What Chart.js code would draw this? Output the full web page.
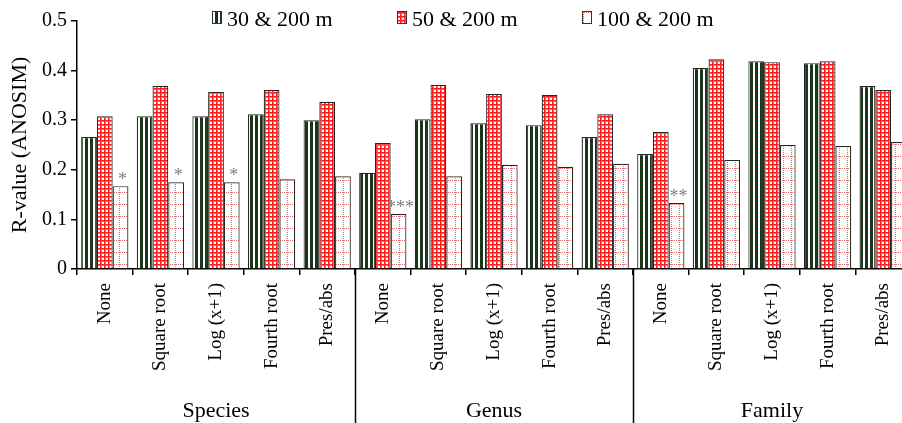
<!DOCTYPE html>
<html>
<head>
<meta charset="utf-8">
<script src="https://cdn.jsdelivr.net/npm/chart.js@4.4.0/dist/chart.umd.min.js"></script>
<style>
html, body { margin: 0; padding: 0; background: #fff; overflow: hidden; }
#wrap { width: 916px; height: 423px; }
</style>
</head>
<body>
<div id="wrap"><canvas id="chart" width="916" height="423"></canvas></div>
<script>
// data
const categories = ['None', 'Square root', 'Log (x+1)', 'Fourth root', 'Pres/abs',
                    'None', 'Square root', 'Log (x+1)', 'Fourth root', 'Pres/abs',
                    'None', 'Square root', 'Log (x+1)', 'Fourth root', 'Pres/abs'];
const groups = ['Species', 'Genus', 'Family'];
const seriesNames = ['30 & 200 m', '50 & 200 m', '100 & 200 m'];
const r30 = [0.266, 0.308, 0.308, 0.312, 0.300, 0.194, 0.302, 0.294, 0.290, 0.266, 0.232, 0.405, 0.419, 0.415, 0.369];
const r50 = [0.308, 0.369, 0.357, 0.361, 0.337, 0.254, 0.371, 0.353, 0.351, 0.312, 0.276, 0.423, 0.417, 0.419, 0.361];
const r100 = [0.167, 0.175, 0.175, 0.181, 0.187, 0.111, 0.187, 0.210, 0.206, 0.212, 0.133, 0.220, 0.250, 0.248, 0.256];
const marks100 = ['*', '*', '*', '', '', '***', '', '', '', '', '**', '', '', '', ''];
const yTicks = [0, 0.1, 0.2, 0.3, 0.4, 0.5];

const FONT = '"Liberation Serif", "Times New Roman", serif';

function makePattern(w, h, draw) {
	const c = document.createElement('canvas');
	c.width = w; c.height = h;
	const g = c.getContext('2d');
	g.fillStyle = '#fff';
	g.fillRect(0, 0, w, h);
	draw(g);
	return g.createPattern(c, 'repeat');
}

// vertical dark green stripes
const stripes = makePattern(5, 5, g => {
	g.fillStyle = '#1b361b';
	g.fillRect(0, 0, 3, 5);
});
// red grid
const redGrid = makePattern(4, 4, g => {
	g.fillStyle = '#ff6a6a';
	g.fillRect(0, 1, 4, 1);
	g.fillRect(1, 0, 1, 4);
	g.fillStyle = '#ff1e1e';
	g.fillRect(0, 0, 4, 1);
	g.fillRect(0, 0, 1, 4);
});
// sparse dotted red lines
const dotted = makePattern(8, 12, g => {
	g.fillStyle = '#e46a6a';
	for (let x = 0; x < 8; x += 2) g.fillRect(x, 0, 1, 1);
	for (let y = 0; y < 12; y += 2) g.fillRect(7, y, 1, 1);
});
const fills = [stripes, redGrid, dotted];

const extras = {
	id: 'extras',
	afterDatasetsDraw(chart) {
		const ctx = chart.ctx;
		const x = chart.scales.x;
		const area = chart.chartArea;
		const step = x.getPixelForValue(1) - x.getPixelForValue(0);
		ctx.save();

		// significance marks
		const meta = chart.getDatasetMeta(2);
		ctx.font = '18px ' + FONT;
		ctx.fillStyle = '#808080';
		ctx.textAlign = 'center';
		ctx.textBaseline = 'alphabetic';
		marks100.forEach((m, i) => {
			if (!m) return;
			const b = meta.data[i];
			ctx.fillText(m, b.x + 2, b.y - 1);
		});

		// dividers between groups
		ctx.strokeStyle = '#000';
		ctx.lineWidth = 1.5;
		[5, 10].forEach(k => {
			const px = Math.round(x.getPixelForValue(k) - step / 2) + 0.5;
			ctx.beginPath();
			ctx.moveTo(px, area.bottom);
			ctx.lineTo(px, chart.height);
			ctx.stroke();
		});

		// group labels
		ctx.fillStyle = '#000';
		ctx.font = '22px ' + FONT;
		groups.forEach((g, gi) => {
			const cx = (x.getPixelForValue(gi * 5) + x.getPixelForValue(gi * 5 + 4)) / 2;
			ctx.fillText(g, cx, 417);
		});

		// legend
		ctx.textAlign = 'left';
		ctx.font = '22px ' + FONT;
		seriesNames.forEach((name, i) => {
			const bx = 212 + i * 185;
			ctx.fillStyle = fills[i];
			ctx.fillRect(bx, 11, 9, 12);
			ctx.strokeStyle = '#333';
			ctx.lineWidth = 1;
			ctx.strokeRect(bx + 0.5, 11.5, 9, 12);
			ctx.fillStyle = '#000';
			ctx.fillText(name, bx + 15, 26);
		});
		ctx.restore();
	}
};

const datasets = [r30, r50, r100].map((vals, i) => ({
	label: seriesNames[i],
	data: vals,
	backgroundColor: fills[i],
	borderColor: '#262626',
	borderWidth: 1.2,
	categoryPercentage: 0.85,
	barPercentage: 1.0
}));

new Chart(document.getElementById('chart'), {
	type: 'bar',
	data: { labels: categories, datasets: datasets },
	options: {
		responsive: false,
		animation: false,
		layout: { padding: { top: 21, right: 5, bottom: 0, left: 0 } },
		plugins: {
			legend: { display: false },
			tooltip: { enabled: false }
		},
		scales: {
			x: {
				offset: true,
				border: { color: '#000', width: 1.5 },
				grid: { display: true, offset: true, drawOnChartArea: false, color: '#000', lineWidth: 1.5, tickLength: 6 },
				ticks: { color: '#000', font: { family: FONT, size: 19 }, maxRotation: 90, minRotation: 90, padding: 8, autoSkip: false },
				afterFit: s => { s.height = 154; }
			},
			y: {
				min: 0,
				max: 0.5,
				afterBuildTicks: s => { s.ticks = yTicks.map(v => ({ value: v })); },
				border: { color: '#000', width: 1.5 },
				grid: { drawOnChartArea: false, color: '#000', lineWidth: 1.5, tickLength: 6 },
				ticks: {
					color: '#000',
					font: { family: FONT, size: 20 },
					padding: 4,
					callback: v => v === 0 ? '0' : v.toFixed(1)
				},
				title: {
					display: true,
					text: 'R-value (ANOSIM)',
					color: '#000',
					font: { family: FONT, size: 22 },
					padding: { top: 7, bottom: 0 }
				},
				afterFit: s => { s.width = 77; }
			}
		}
	},
	plugins: [extras]
});
</script>
</body>
</html>
